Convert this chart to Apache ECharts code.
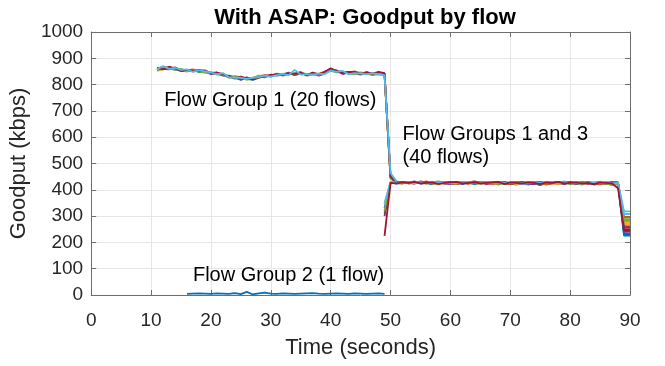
<!DOCTYPE html>
<html>
<head>
<meta charset="utf-8">
<script src="https://cdn.jsdelivr.net/npm/echarts@6/dist/echarts.min.js"></script>
<style>
  html, body { margin: 0; padding: 0; background: #fff; }
  #chart { width: 665px; height: 366px; }
</style>
</head>
<body>
<div id="chart"></div>
<script>
// Flow Group 1: samples every second from t = 11 to t = 90
var g1Start = 11;
var g1Flows = [
  [856,862,860,858,852,850,855,848,850,842,840,836,830,826,820,822,818,828,832,834,838,840,844,836,842,838,842,836,846,860,852,848,842,846,840,844,838,840,836,
   452,
   430,426,428,424,430,426,422,428,430,424,426,422,428,424,426,430,426,422,428,424,420,426,428,424,418,426,428,424,430,422,426,424,428,420,424,426,422,424,
   226,226],
  [860,868,864,862,856,854,858,852,848,846,844,840,828,830,824,826,822,832,836,830,842,834,840,840,848,834,838,840,850,856,848,846,846,850,844,846,842,844,840,
   448,
   428,430,424,428,426,432,424,426,428,430,422,426,424,428,430,424,428,426,424,428,426,422,424,428,426,420,424,428,426,424,428,422,426,424,428,422,426,420,
   262,262],
  [852,858,866,860,858,850,852,854,846,848,838,842,832,822,826,818,824,826,830,836,836,842,838,844,840,840,836,842,844,854,850,844,848,842,846,840,844,838,842,
   444,
   426,424,430,426,428,424,430,428,424,426,428,430,422,426,428,422,430,428,426,420,428,430,426,422,428,424,430,426,422,428,424,426,430,424,420,426,428,424,
   276,276],
  [862,860,858,866,854,856,850,856,852,840,846,834,834,828,818,828,820,830,828,838,834,838,846,838,844,836,844,834,842,858,854,840,846,844,838,848,840,846,842,
   446,
   424,428,426,432,424,428,426,424,430,422,424,428,426,430,424,428,424,430,422,426,424,428,422,426,430,424,426,422,428,426,422,428,424,426,422,428,424,426,
   240,240],
  [854,864,862,856,860,852,854,850,846,844,842,838,826,832,828,820,826,834,830,832,840,838,842,842,846,840,840,838,844,852,846,850,842,840,846,842,836,842,838,
   442,
   430,424,428,430,426,424,428,432,426,428,424,426,430,422,428,426,424,428,430,424,426,428,424,430,426,422,428,424,426,428,424,420,428,426,424,428,418,426,
   288,288],
  [864,858,868,862,852,856,852,850,854,844,846,840,830,824,830,824,820,826,834,836,840,836,842,842,846,836,846,840,848,862,850,846,848,848,840,846,842,848,844,
   450,
   426,430,428,424,432,428,424,426,430,426,428,424,428,432,426,424,426,430,426,422,426,430,426,428,424,426,430,426,424,430,426,428,426,422,426,424,430,428,
   250,250],
  [858,870,860,864,856,858,848,854,850,846,840,844,828,826,826,822,826,828,834,830,836,840,836,856,838,840,838,842,840,854,848,852,840,844,842,840,844,840,836,
   464,
   432,428,426,430,428,426,428,430,424,428,426,428,426,424,428,430,426,428,424,426,428,422,428,424,426,430,428,426,432,426,428,424,428,426,428,424,428,426,
   318,318]
];
var g1Colors = ['#0072BD', '#D95319', '#EDB120', '#7E2F8E', '#77AC30', '#A2142F', '#4DBEEE'];

// Flow Group 3: samples every second from t = 49 to t = 90
var g3Start = 49;
var g3Flows = [
  [330, 428,424,426,430,428,424,426,422,428,426,430,424,426,428,422,426,428,424,426,430,424,426,428,420,426,424,428,430,426,422,428,424,426,428,424,426,422,428,424, 232,232],
  [310, 426,428,430,424,426,428,424,430,426,424,428,422,428,426,430,424,426,422,428,426,424,428,426,424,430,428,422,426,428,424,426,430,424,428,426,422,428,426,424, 296,296],
  [345, 430,426,424,428,430,426,428,424,422,428,426,424,430,428,426,422,428,424,430,426,428,422,426,430,424,426,428,424,422,426,428,430,426,424,428,426,424,420,426, 270,270],
  [300, 424,430,428,426,424,428,430,426,428,424,422,428,426,424,428,430,422,426,428,424,426,430,428,424,422,428,426,424,428,426,430,424,428,422,426,428,424,426,428, 258,258],
  [320, 428,426,424,430,426,428,424,426,430,428,426,424,428,426,424,430,426,428,420,426,424,428,426,430,428,424,426,428,424,430,422,426,428,424,426,430,424,418,426, 282,282],
  [350, 430,428,426,428,424,428,426,430,426,428,424,426,428,430,426,424,428,426,428,424,426,428,426,424,428,426,428,430,424,428,426,428,424,426,428,426,430,424,426, 308,308],
  [225, 426,424,428,426,430,424,426,428,422,426,428,430,424,426,428,424,426,428,430,422,428,426,424,428,426,422,428,426,430,424,426,428,424,426,422,428,426,424,406, 246,246]
];
var g3Colors = ['#0072BD', '#D95319', '#EDB120', '#7E2F8E', '#77AC30', '#4DBEEE', '#A2142F'];

// Flow Group 2: one flow, t = 16 to t = 49
var g2Start = 16;
var g2Flow = [4,5,6,5,4,6,5,4,7,3,12,2,6,9,5,4,6,5,4,5,6,7,5,4,5,6,5,4,6,5,4,5,6,4];

var xTicks = { min: 0, max: 90, interval: 10 };
var yTicks = { min: 0, max: 1000, interval: 100 };

var annotations = [
  { text: 'Flow Group 1 (20 flows)', x: 12.2, y: 738 },
  { text: 'Flow Groups 1 and 3', x: 52.0, y: 612 },
  { text: '(40 flows)', x: 52.0, y: 522 },
  { text: 'Flow Group 2 (1 flow)', x: 17.0, y: 76 }
];

function toPairs(start, vals) {
  var out = [];
  for (var i = 0; i < vals.length; i++) out.push([start + i, vals[i]]);
  return out;
}

var series = [];
g1Flows.forEach(function (v, i) {
  series.push({ type: 'line', data: toPairs(g1Start, v), color: g1Colors[i] });
});
g3Flows.forEach(function (v, i) {
  series.push({ type: 'line', data: toPairs(g3Start, v), color: g3Colors[i] });
});
series.push({ type: 'line', data: toPairs(g2Start, g2Flow), color: '#0072BD' });
series.forEach(function (s) {
  s.symbol = 'none';
  s.animation = false;
  s.lineStyle = { width: 1.8, color: s.color };
  s.itemStyle = { color: s.color };
});

var font = 'Liberation Sans, Arial, Helvetica, sans-serif';
var axisColor = '#6e6e6e';
var textColor = '#262626';
var plain = function (v) { return String(v); };

var myChart = echarts.init(document.getElementById('chart'));
var option = {
  animation: false,
  title: {
    text: 'With ASAP: Goodput by flow',
    left: 360, top: 2, textAlign: 'center',
    textStyle: { fontFamily: font, fontSize: 22, fontWeight: 'bold', color: '#000' }
  },
  grid: { left: 90, right: 35, top: 32, bottom: 71 },
  xAxis: [
    {
      type: 'value', min: xTicks.min, max: xTicks.max, interval: xTicks.interval,
      name: 'Time (seconds)', nameLocation: 'middle', nameGap: 42,
      nameTextStyle: { fontFamily: font, fontSize: 22, color: textColor },
      axisLine: { show: true, lineStyle: { color: axisColor, width: 1 } },
      axisTick: { show: true, inside: true, length: 5, lineStyle: { color: axisColor } },
      axisLabel: { fontFamily: font, fontSize: 19, color: textColor, margin: 16, formatter: plain },
      splitLine: { show: true, lineStyle: { color: '#e6e6e6', width: 1 } }
    },
    {
      type: 'value', position: 'top', min: xTicks.min, max: xTicks.max, interval: xTicks.interval,
      axisLine: { show: true, onZero: false, lineStyle: { color: axisColor, width: 1 } },
      axisTick: { show: true, inside: true, length: 5, lineStyle: { color: axisColor } },
      axisLabel: { show: false },
      splitLine: { show: false }
    }
  ],
  yAxis: [
    {
      type: 'value', min: yTicks.min, max: yTicks.max, interval: yTicks.interval,
      name: 'Goodput (kbps)', nameLocation: 'middle', nameGap: 47,
      nameTextStyle: { fontFamily: font, fontSize: 22, color: textColor },
      axisLine: { show: true, lineStyle: { color: axisColor, width: 1 } },
      axisTick: { show: true, inside: true, length: 5, lineStyle: { color: axisColor } },
      axisLabel: { fontFamily: font, fontSize: 19, color: textColor, margin: 8, formatter: plain },
      splitLine: { show: true, lineStyle: { color: '#e6e6e6', width: 1 } }
    },
    {
      type: 'value', position: 'right', min: yTicks.min, max: yTicks.max, interval: yTicks.interval,
      axisLine: { show: true, onZero: false, lineStyle: { color: axisColor, width: 1 } },
      axisTick: { show: true, inside: true, length: 5, lineStyle: { color: axisColor } },
      axisLabel: { show: false },
      splitLine: { show: false }
    }
  ],
  series: series
};
myChart.setOption(option);

// text annotations placed at data coordinates
var graphics = annotations.map(function (a) {
  var p = myChart.convertToPixel({ gridIndex: 0 }, [a.x, a.y]);
  return {
    type: 'text', x: p[0], y: p[1], z: 100,
    style: { text: a.text, fontFamily: font, fontSize: 20, fill: '#000', verticalAlign: 'middle', align: 'left' }
  };
});
myChart.setOption({ graphic: graphics });
</script>
</body>
</html>
